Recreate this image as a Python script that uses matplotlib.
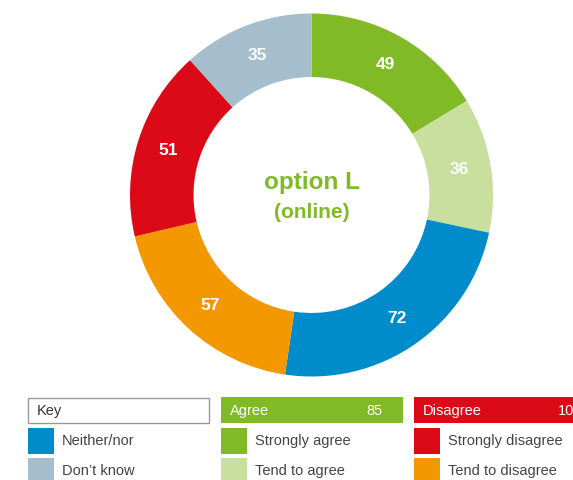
import matplotlib
matplotlib.use("Agg")
import matplotlib.pyplot as plt
from matplotlib.patches import Rectangle

plt.rcParams['font.family'] = ['Liberation Sans', 'DejaVu Sans']

# Responses, clockwise from 12 o'clock
categories = ["Strongly agree", "Tend to agree", "Neither/nor",
              "Tend to disagree", "Strongly disagree", "Don\u2019t know"]
values = [49, 36, 72, 57, 51, 35]
colors = ["#80BA27", "#C8DF9E", "#008BCB", "#F39800", "#DC0A17", "#A5BDCD"]

title_lines = ["option L", "(online)"]
agree_total = values[0] + values[1]
disagree_total = values[3] + values[4]

W, H = 573, 480
fig = plt.figure(figsize=(W / 100, H / 100), dpi=100)
ax = fig.add_axes([0, 0, 1, 1])

total = sum(values)
cx, cy, R = 311.5, H - 195, 181.5
ax.pie(values, colors=colors, startangle=90, counterclock=False,
       center=(cx, cy), radius=R,
       wedgeprops=dict(width=R * 0.35, linewidth=0),
       autopct=lambda p: f"{round(p * total / 100)}",
       pctdistance=0.826,
       textprops=dict(color="white", fontsize=12.5, fontweight="bold"))

ax.text(cx, cy + 13, title_lines[0], ha="center", va="center",
        color="#80BA27", fontsize=17.5, fontweight="bold")
ax.text(cx, cy - 17, title_lines[1], ha="center", va="center",
        color="#80BA27", fontsize=15, fontweight="bold")

def Y(y):
    return H - y

HEAD_BASE = Y(415)

# Legend headers
ax.add_patch(Rectangle((28, Y(423)), 181, 25, facecolor="white",
                       edgecolor="#9a9a9a", linewidth=1))
ax.text(37, HEAD_BASE, "Key", ha="left", va="baseline", color="#333333", fontsize=10.5)

ax.add_patch(Rectangle((221, Y(423)), 182, 26, facecolor=colors[0], linewidth=0))
ax.text(230, HEAD_BASE, "Agree", ha="left", va="baseline", color="white", fontsize=10.5)
ax.text(383, HEAD_BASE, f"{agree_total}", ha="right", va="baseline", color="white", fontsize=10.5)

ax.add_patch(Rectangle((414, Y(423)), 200, 26, facecolor=colors[4], linewidth=0))
ax.text(423, HEAD_BASE, "Disagree", ha="left", va="baseline", color="white", fontsize=10.5)
ax.text(558, HEAD_BASE, f"{disagree_total}", ha="left", va="baseline", color="white", fontsize=10.5)

# Legend entries: (column x, row, category index)
entries = [(28, 0, 2), (28, 1, 5), (221, 0, 0), (221, 1, 1), (414, 0, 4), (414, 1, 3)]
for x0, row, idx in entries:
    top = 428 + row * 30
    ax.add_patch(Rectangle((x0, Y(top + 26)), 26, 26, facecolor=colors[idx], linewidth=0))
    ax.text(x0 + 34, Y(top + 17), categories[idx], ha="left", va="baseline",
            color="#444444", fontsize=10.5)

ax.set_xlim(0, W)
ax.set_ylim(0, H)
ax.set_aspect("equal")
ax.axis("off")

fig.savefig("out.png", dpi=100, facecolor="white")
